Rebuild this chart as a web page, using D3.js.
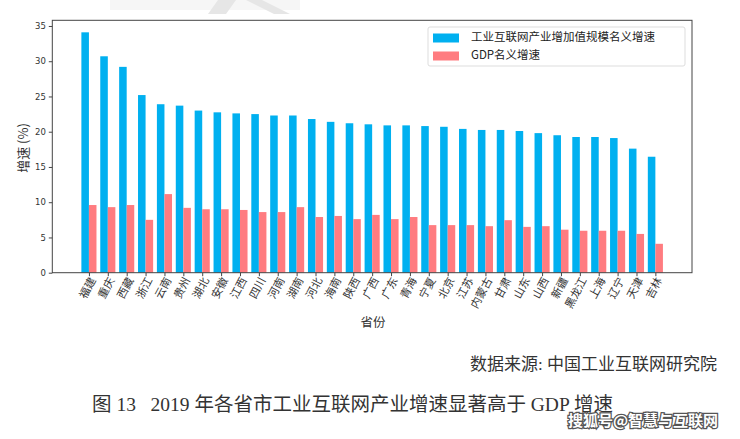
<!DOCTYPE html>
<html><head><meta charset="utf-8">
<script src="https://cdn.jsdelivr.net/npm/d3@7"></script>
<style>
html,body{margin:0;padding:0;background:#fff;}
svg{display:block;}
</style></head>
<body>
<svg id="chart" width="740" height="439"></svg>
<script>
const provinces = ["福建","重庆","西藏","浙江","云南","贵州","湖北","安徽","江西","四川","河南","湖南","河北","海南","陕西","广西","广东","青海","宁夏","北京","江苏","内蒙古","甘肃","山东","山西","新疆","黑龙江","上海","辽宁","天津","吉林"];
const iiGrowth = [34.1,30.7,29.2,25.2,23.9,23.7,23.0,22.75,22.6,22.5,22.3,22.3,21.8,21.4,21.2,21.05,20.9,20.9,20.8,20.7,20.4,20.25,20.25,20.1,19.8,19.5,19.25,19.25,19.1,17.6,16.45];
const gdpGrowth = [9.6,9.3,9.6,7.5,11.15,9.2,9.0,9.0,8.9,8.6,8.6,9.3,7.9,8.05,7.6,8.2,7.6,7.9,6.75,6.75,6.75,6.6,7.45,6.5,6.6,6.1,5.95,5.95,5.95,5.5,4.1];
const yTicks = [0,5,10,15,20,25,30,35];
const seriesNames = ["工业互联网产业增加值规模名义增速","GDP名义增速"];
const seriesColors = ["#00B0F0","#FF7C80"];

const svg = d3.select("#chart");
const cjk = "'Noto Sans CJK SC','Noto Sans',sans-serif";
const serif = "'Liberation Serif','Noto Sans CJK SC',serif";

// faint watermark shapes at top
svg.append("rect").attr("x",110).attr("y",0).attr("width",190).attr("height",10).attr("fill","#f6f6f6");
svg.append("path").attr("d","M218,0 L236,0 L226,14 L208,14 Z").attr("fill","#e6e6e6");
svg.append("path").attr("d","M246,0 L262,0 L290,14 L274,14 Z").attr("fill","#e6e6e6");

const L=52.3, R=692, T=20.3, B=272.7;
const n = provinces.length;
const bw = 0.4;
const x = d3.scaleLinear().domain([-0.4 - 0.05*(n-1+0.8), n-1+0.4 + 0.05*(n-1+0.8)]).range([L,R]);
const y = d3.scaleLinear().domain([0, 34.1*1.05]).range([B,T]);

const g = svg.append("g");
const series = [iiGrowth, gdpGrowth];
series.forEach((vals,si)=>{
  g.selectAll(null).data(vals).enter().append("rect")
    .attr("x",(d,i)=>x(i - bw + si*bw))
    .attr("width",x(bw)-x(0))
    .attr("y",d=>y(d))
    .attr("height",d=>y(0)-y(d))
    .attr("fill",seriesColors[si]);
});

// frame
svg.append("rect").attr("x",L).attr("y",T).attr("width",R-L).attr("height",B-T)
  .attr("fill","none").attr("stroke","#444").attr("stroke-width",1);

// y axis
const yAxis = d3.axisLeft(y).tickValues(yTicks).tickSize(3.5).tickPadding(3);
const ya = svg.append("g").attr("transform",`translate(${L},0)`).call(yAxis);
ya.select(".domain").remove();
ya.selectAll("line").attr("stroke","#444");
ya.selectAll("text").attr("font-family","'DejaVu Sans',sans-serif").attr("font-size",8.5).attr("fill","#333");

// x axis
const xAxis = d3.axisBottom(x).tickValues(d3.range(n)).tickSize(3.5).tickFormat(i=>provinces[i]);
const xa = svg.append("g").attr("transform",`translate(0,${B})`).call(xAxis);
xa.select(".domain").remove();
xa.selectAll("line").attr("stroke","#444");
xa.selectAll("text")
  .attr("font-family",cjk).attr("font-size",11).attr("fill","#333")
  .attr("text-anchor","end").attr("dy",null).attr("y",null)
  .attr("transform","translate(4,6) rotate(-62)")
  .attr("dominant-baseline","middle");

// axis labels
svg.append("text").attr("transform","translate(24,148) rotate(-90)")
  .attr("text-anchor","middle").attr("dominant-baseline","middle")
  .attr("font-family",cjk).attr("font-size",13).attr("fill","#333").text("增速 (%)");
svg.append("text").attr("x",373).attr("y",324)
  .attr("text-anchor","middle").attr("dominant-baseline","middle")
  .attr("font-family",cjk).attr("font-size",12.5).attr("fill","#333").text("省份");

// legend
const lg = svg.append("g");
lg.append("rect").attr("x",428).attr("y",27).attr("width",257).attr("height",39).attr("rx",2)
  .attr("fill","#fff").attr("stroke","#ddd").attr("stroke-width",1);
seriesNames.forEach((nm,i)=>{
  const cy = 38 + i*18;
  lg.append("rect").attr("x",433).attr("y",cy-4.5).attr("width",26).attr("height",9).attr("fill",seriesColors[i]);
  lg.append("text").attr("x",471).attr("y",cy).attr("dominant-baseline","middle")
    .attr("font-family",cjk).attr("font-size",11.5).attr("fill","#222").text(nm);
});

// source and caption
svg.append("text").attr("x",717).attr("y",366).attr("text-anchor","end").attr("dominant-baseline","middle")
  .attr("font-family",serif).attr("font-size",17).attr("fill","#333").text("数据来源: 中国工业互联网研究院");
svg.append("text").attr("x",92).attr("y",407).attr("dominant-baseline","middle")
  .attr("font-family",serif).attr("font-size",19.5).attr("fill","#333")
  .attr("xml:space","preserve").text("图 13   2019 年各省市工业互联网产业增速显著高于 GDP 增速");

// watermark
svg.append("text").attr("x",718).attr("y",422).attr("text-anchor","end").attr("dominant-baseline","middle")
  .attr("font-family",cjk).attr("font-size",15).attr("font-weight","bold")
  .attr("fill","#fff").attr("stroke","#555").attr("stroke-width",2.5).attr("paint-order","stroke")
  .text("搜狐号@智慧与互联网");
</script>
</body></html>
